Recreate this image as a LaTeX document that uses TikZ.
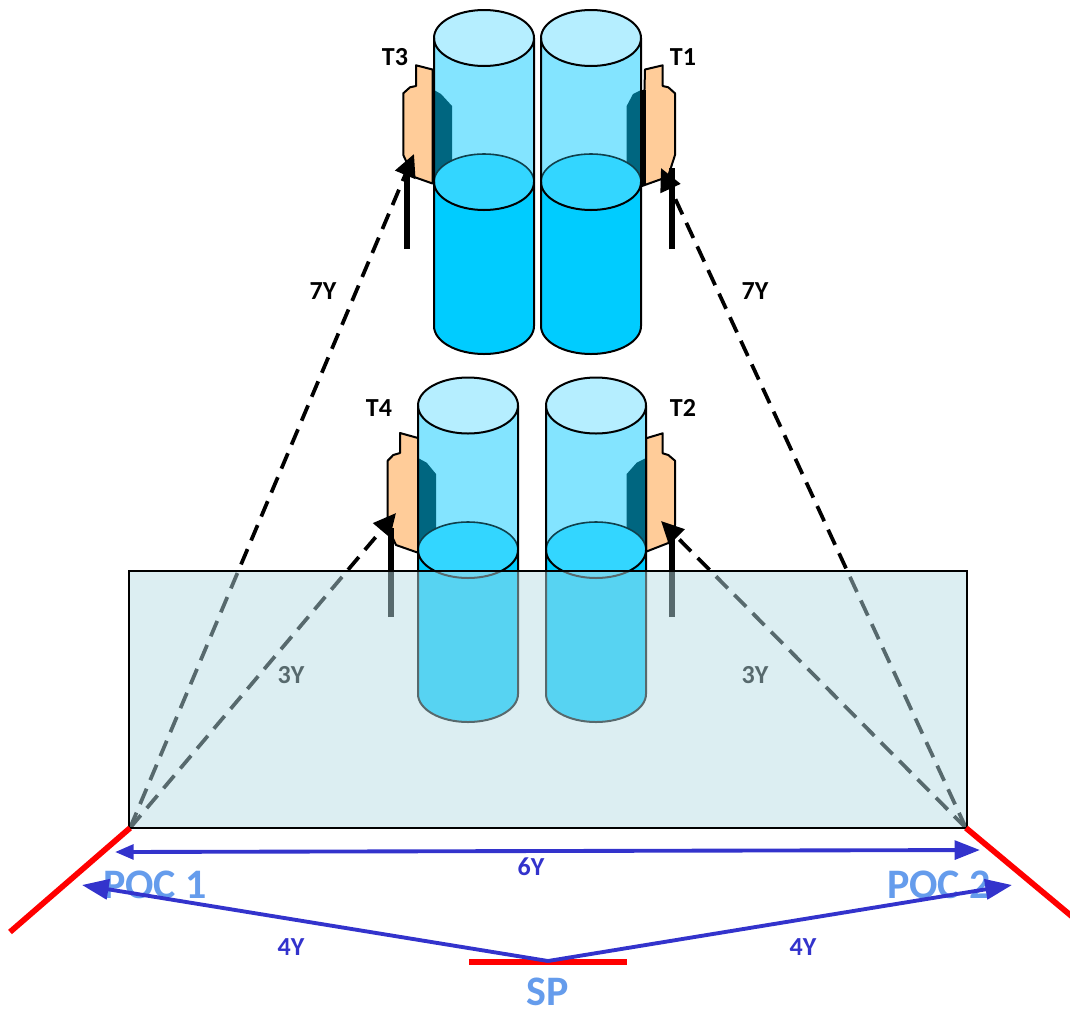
\documentclass[tikz,border=0pt]{standalone}
\usepackage{fontspec}
\setmainfont{Carlito}
\usetikzlibrary{arrows.meta}
\definecolor{captop}{HTML}{B5EEFF}
\definecolor{airbody}{HTML}{83E4FF}
\definecolor{surf}{HTML}{33D6FF}
\definecolor{lowbody}{HTML}{00CCFF}
\definecolor{shade}{HTML}{006680}
\definecolor{sens}{HTML}{FFCC99}
\definecolor{pane}{RGB}{182,220,228}
\definecolor{linkblue}{HTML}{3333CC}
\definecolor{placeblue}{HTML}{659CEC}
\tikzset{
  outline/.style={draw=black,line width=1.5pt},
  sensor/.style={draw=black,line width=1.5pt,fill=sens,line join=round},
  shadow part/.style={fill=shade},
  vbar/.style={line width=4.6pt,black},
  sight/.style={line width=2.8pt,black,dash pattern=on 12.5pt off 7pt,-{Triangle[length=17pt,width=16pt,sep=0pt]}},
  redline/.style={line width=4.3pt,red},
  span/.style={line width=2.9pt,linkblue,-{Triangle[length=20pt,width=15pt]}},
  tag/.style={font=\bfseries\fontsize{19.5}{22}\selectfont,inner sep=0pt},
  place/.style={font=\bfseries\fontsize{31.5}{36}\selectfont,text=placeblue,inner sep=0pt},
}
\newcommand{\cylbody}[4]{% centre x, top y, surface y, bottom y
  \fill[airbody] ({#1-50},#2) rectangle ({#1+50},#3);
  \fill[lowbody] ({#1-50},#3) -- ({#1+50},#3) -- ({#1+50},#4) arc[start angle=0,end angle=180,x radius=50,y radius=28] -- cycle;
}
\newcommand{\cylrest}[4]{%
  \fill[surf] (#1,#3) ellipse[x radius=50,y radius=28];
  \draw[black!70!surf,line width=1.2pt] ({#1-50},#3) arc[start angle=180,end angle=360,x radius=50,y radius=28];
  \draw[outline] ({#1-50},#3) arc[start angle=180,end angle=0,x radius=50,y radius=28];
  \draw[outline,fill=captop] (#1,#2) ellipse[x radius=50,y radius=28];
  \draw[outline] ({#1-50},#2) -- ({#1-50},#4) arc[start angle=180,end angle=0,x radius=50,y radius=28] -- ({#1+50},#2);
}
\begin{document}
\begin{tikzpicture}[x=0.75pt,y=-0.75pt]
\useasboundingbox (0,0) rectangle (1070,1011);
% corners and targets
\coordinate (poca) at (130,828);
\coordinate (pocb) at (966,828);
\coordinate (tipthree) at (414,154);
\coordinate (tipone) at (661,168);
\coordinate (tipfour) at (396,513);
\coordinate (tiptwo) at (661,521);
\coordinate (barthreeA) at (406.7,249); \coordinate (barthreeB) at (406.7,168);
\coordinate (baroneA) at (671.7,249);   \coordinate (baroneB) at (671.7,168);
\coordinate (barfourA) at (390.7,617);  \coordinate (barfourB) at (390.7,528);
\coordinate (bartwoA) at (671.7,617);   \coordinate (bartwoB) at (671.7,533);
% sensors
\draw[sensor] (432.5,69.5) -- (416,65.3) -- (416,86) -- (410,87.3) -- (403.3,93.3) -- (403.3,155) -- (413.3,176.7) -- (432.5,183.5) -- cycle;
\draw[sensor] (645,69.5) -- (662.7,65.3) -- (662.7,86) -- (668.3,87.3) -- (675,93.3) -- (675,155) -- (668,176.7) -- (642,186) -- cycle;
\draw[sensor] (418,438) -- (400,433) -- (400,453) -- (393.3,455) -- (387.7,460.7) -- (387.7,527) -- (396,545) -- (418,552.7) -- cycle;
\draw[sensor] (646,438.3) -- (662.7,433.3) -- (662.7,453.3) -- (668.3,455) -- (675,460.7) -- (675,525) -- (668.3,543) -- (646,551.7) -- cycle;
% upper cylinders
\cylbody{484}{38}{182}{326}
\cylbody{591}{38}{182}{326}
\fill[shadow part] (434,90) -- (441,94) -- (452,106) -- (452,180) -- (434,180) -- cycle;
\fill[shadow part] (641,90) -- (633,94) -- (626.7,106) -- (626.7,180) -- (641,180) -- cycle;
\cylrest{484}{38}{182}{326}
\cylrest{591}{38}{182}{326}
\draw[black,line width=3.6pt] (644,90) -- (644,185);
% lower cylinders
\cylbody{468}{405.5}{550}{694}
\cylbody{596}{405.5}{550}{694}
\fill[shadow part] (418,458) -- (426.7,462.7) -- (436,474) -- (436,545) -- (418,545) -- cycle;
\fill[shadow part] (646,458) -- (636.7,462.7) -- (626.7,474) -- (626.7,545) -- (646,545) -- cycle;
\cylrest{468}{405.5}{550}{694}
\cylrest{596}{405.5}{550}{694}
% bars
\draw[vbar] (barthreeA) -- (barthreeB);
\draw[vbar] (baroneA) -- (baroneB);
\draw[vbar] (barfourA) -- (barfourB);
\draw[vbar] (bartwoA) -- (bartwoB);
% sight lines
\draw[sight] (poca) -- (tipthree);
\draw[sight] (pocb) -- (tipone);
\draw[sight] (poca) -- (tipfour);
\draw[sight] (pocb) -- (tiptwo);
% labels under the pane
\node[tag,text=black] (lblthreeL) at (291,675) {3Y};
\node[tag,text=black] (lblthreeR) at (755,675) {3Y};
% translucent pane
\fill[pane,fill opacity=0.48] (129,571) rectangle (967,828);
\draw[black,line width=1.1pt] (129,571) rectangle (967,828);
% red lines
\coordinate (redaEnd) at (10,932);
\coordinate (redbEnd) at (1072,916.5);
\coordinate (spL) at (469,962);
\coordinate (spR) at (627,962);
\draw[redline] (poca) -- (redaEnd);
\draw[redline] (pocb) -- (redbEnd);
\draw[redline] (spL) -- (spR);
% place labels
\node[place] (poc1) at (155,885) {POC 1};
\node[place] (poc2) at (939,885) {POC 2};
\node[place] (sp) at (548,992) {SP};
% blue spans
\coordinate (apex) at (548,961);
\coordinate (spanaEnd) at (82,885);
\coordinate (spanbEnd) at (1012,885);
\coordinate (widthL) at (115,852);
\coordinate (widthR) at (980,850);
\draw[span] (apex) -- (spanaEnd);
\draw[span] (apex) -- (spanbEnd);
\draw[line width=2.9pt,linkblue,{Triangle[length=14pt,width=11pt]}-{Triangle[length=19pt,width=14pt]}] (widthL) -- (widthR);
% labels
\node[tag] (t3) at (395,57) {T3};
\node[tag] (t1) at (683,57) {T1};
\node[tag] (t4) at (379,408) {T4};
\node[tag] (t2) at (683,408) {T2};
\node[tag] (syl) at (323,291) {7Y};
\node[tag] (syr) at (755,291) {7Y};
\node[tag,text=linkblue] (six) at (531,867) {6Y};
\node[tag,text=linkblue] (fl) at (291,947) {4Y};
\node[tag,text=linkblue] (fr) at (803,947) {4Y};
\end{tikzpicture}
\end{document}
